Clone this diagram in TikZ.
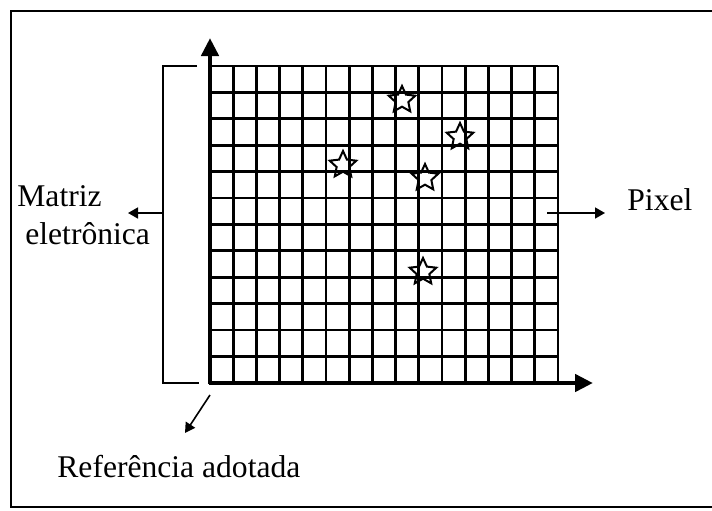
\documentclass[tikz,border=0pt]{standalone}
\usepackage{fontspec}
\setmainfont{Liberation Serif}
\usetikzlibrary{arrows.meta,shapes.geometric,calc}
\tikzset{
	gridline/.style={line width=1.4pt},
	axis/.style={line width=2.4pt, -{Triangle[length=9pt,width=8.5pt]}},
	pointer/.style={line width=0.8pt, -{Triangle[length=5pt,width=5.5pt]}},
	frameline/.style={line width=1pt},
	pix/.style={star, star points=5, star point ratio=2.1, draw, line width=1pt, inner sep=0pt, minimum size=14pt},
	lbl/.style={font=\fontsize{15.8}{19}\selectfont, inner sep=0pt}
}

\begin{document}
\begin{tikzpicture}[x=0.5pt, y=-0.5pt]
	\useasboundingbox (0,0) rectangle (712,510);
	% outer frame, open on the right
	\draw[frameline] (730,11) -- (11,11) -- (11,507) -- (730,507);

	\coordinate (o) at (210,383);
	\coordinate (ytip) at (210,38);
	\coordinate (xtip) at (593,383);

	% pixel grid
	\foreach \i in {1,...,15}
		\draw[gridline] (210+\i*23.2,66) -- (210+\i*23.2,383);
	\foreach \j in {0,...,11}
		\draw[gridline] (210,66+\j*26.4) -- (558,66+\j*26.4);
	\draw[axis] ($(o)+(0,1)$) -- (ytip);
	\draw[axis] ($(o)+(-1,0)$) -- (xtip);

	\node[pix] (s1) at (402,100) {};
	\node[pix] (s2) at (460,137) {};
	\node[pix] (s3) at (343,165) {};
	\node[pix] (s4) at (425,178) {};
	\node[pix] (s5) at (423,272) {};

	% bracket of the matrix
	\draw[frameline] (197,66) -- (163,66) -- (163,383) -- (199,383);

	\node[lbl, align=left, anchor=west] (matriz) at (17,215) {Matriz\\\hspace{4pt}eletrônica};
	\node[lbl, anchor=base west] (pixel) at (627,210) {Pixel};
	\node[lbl, anchor=base west] (ref) at (57,477) {Referência adotada};

	\coordinate (mb) at (163,213);
	\coordinate (mtip) at (128,213);
	\coordinate (pc) at (547,213);
	\coordinate (ptip) at (605,213);
	\coordinate (rc) at (210,395);
	\coordinate (rtip) at (185,433);
	\draw[pointer] (mb) -- (mtip);
	\draw[pointer] (pc) -- (ptip);
	\draw[pointer] (rc) -- (rtip);
\end{tikzpicture}
\end{document}
